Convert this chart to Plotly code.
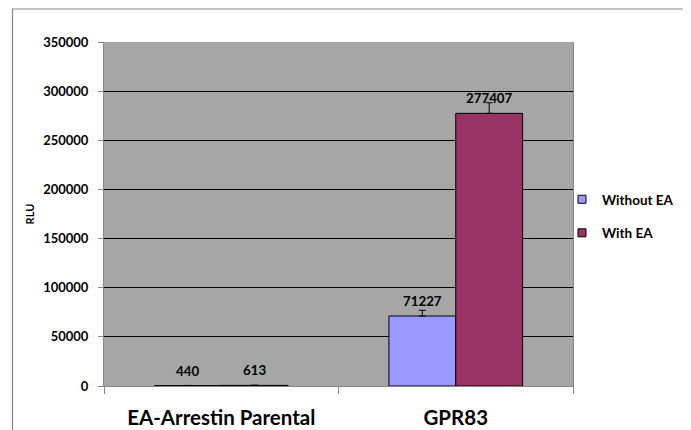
import plotly.graph_objects as go

categories = ["EA-Arrestin Parental", "GPR83"]
series_names = ["Without EA", "With EA"]
without_ea = [440, 71227]
with_ea = [613, 277407]
without_ea_err = [150, 5800]
with_ea_err = [200, 10800]
colors = ["#9999FF", "#993366"]
y_ticks = [0, 50000, 100000, 150000, 200000, 250000, 300000, 350000]

# the page puts the figure 8px in from the top-left corner
OFF = 8
W, H = 691 - OFF, 430 - OFF
ML, MR, MT, MB = 96, 118, 34, 44
PW = W - ML - MR
PH = H - MT - MB

FONT = "Lato"

fig = go.Figure()
series = [without_ea, with_ea]
errs = [without_ea_err, with_ea_err]
for name, vals, err, col in zip(series_names, series, errs, colors):
    fig.add_trace(go.Bar(
        x=categories, y=vals, name=name, showlegend=False,
        marker=dict(color=col, line=dict(color="black", width=1)),
        error_y=dict(type="data", array=err, arrayminus=[0] * len(err),
                     symmetric=False, visible=True, color="black",
                     thickness=1, width=3.5),
    ))
    fig.add_trace(go.Scatter(
        x=[None], y=[None], mode="markers", name=name, legendgroup=name,
        marker=dict(symbol="square", size=8, color=col,
                    line=dict(color="black", width=1)),
    ))

# data labels
offsets = [-33.5, 33.5]
for vals, off in zip(series, offsets):
    for c, v in zip(categories, vals):
        fig.add_annotation(x=c, y=v, text=f"{v}", showarrow=False,
                           xshift=off, yshift=15, yanchor="middle",
                           font=dict(family=FONT, size=13.3, color="black", weight="bold"))

# helpers: reference-image pixels -> paper coords
def px_x(p):
    return (p - OFF - ML) / PW
def px_y(p):
    return (H - MB - (p - OFF)) / PH

fig.add_shape(type="rect", xref="paper", yref="paper",
              x0=px_x(12.5), x1=px_x(686), y0=px_y(445), y1=px_y(9),
              line=dict(color="#868686", width=1.2), fillcolor="rgba(0,0,0,0)",
              layer="below")

fig.update_layout(
    width=W, height=H,
    margin=dict(l=ML, r=MR, t=MT, b=MB, autoexpand=False),
    paper_bgcolor="white", plot_bgcolor="#A6A6A6",
    barmode="group", bargap=0.43, bargroupgap=0,
    font=dict(family=FONT, color="black"),
    legend=dict(x=px_x(562), y=px_y(184), xanchor="left", yanchor="top",
                font=dict(family=FONT, size=13.5, weight="bold"),
                tracegroupgap=13, itemwidth=30, bgcolor="rgba(0,0,0,0)"),
    xaxis=dict(
        type="category", showline=True, linecolor="#868686", linewidth=1,
        ticks="outside", tickson="boundaries", ticklen=7, tickcolor="#868686",
        tickfont=dict(family=FONT, size=20.5, weight="bold"),
        ticklabelstandoff=13, showgrid=False, automargin=False,
    ),
    yaxis=dict(
        range=[0, 350000], tickvals=y_ticks, ticktext=[str(t) for t in y_ticks],
        showline=True, mirror=True, linecolor="#868686", linewidth=1,
        ticks="outside", ticklen=5, tickcolor="#868686",
        tickfont=dict(family=FONT, size=13, weight="bold"),
        ticklabelstandoff=7,
        showgrid=True, gridcolor="black", gridwidth=1, zeroline=False,
        automargin=False,
        title=dict(text="RLU", font=dict(family=FONT, size=11, weight="bold"), standoff=6),
    ),
)

fig.write_html("out.html")
